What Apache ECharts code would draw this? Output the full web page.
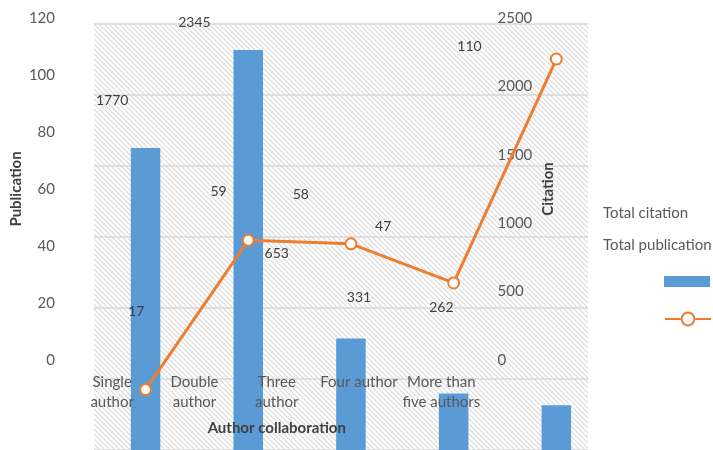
<!DOCTYPE html>
<html>
<head>
<meta charset="utf-8">
<script src="https://cdn.jsdelivr.net/npm/echarts@6/dist/echarts.min.js"></script>
<style>
html,body{margin:0;padding:0;background:#fff;}
#chart{width:713px;height:450px;}
</style>
</head>
<body>
<div id="chart"></div>
<script>
const categories = ['Single\nauthor', 'Double\nauthor', 'Three\nauthor', 'Four author', 'More than\nfive authors'];
const citations = [1770, 2345, 653, 331, 262];
const publications = [17, 59, 58, 47, 110];
const pubAxis = { min: 0, max: 120, interval: 20 };
const citAxis = { min: 0, max: 2500, interval: 500 };
const seriesNames = ['Total citation', 'Total publication'];

const FONT = 'Lato';
const tile = document.createElement('canvas');
tile.width = 5; tile.height = 5;
const tc = tile.getContext('2d');
tc.fillStyle = '#ffffff';
tc.fillRect(0, 0, 5, 5);
tc.strokeStyle = '#d9d9d9';
tc.lineWidth = 1.1;
for (let n = -1; n <= 1; n++) {
  tc.beginPath();
  tc.moveTo(-1, -1 + 5 * n);
  tc.lineTo(6, 6 + 5 * n);
  tc.stroke();
}

const chart = echarts.init(document.getElementById('chart'));
const tickLabel = { color: '#595959', fontFamily: FONT, fontSize: 15, formatter: (v) => String(v) };
const nameStyle = { color: '#404040', fontFamily: FONT, fontWeight: 'bold', fontSize: 15 };
const option = {
  animation: false,
  backgroundColor: '#ffffff',
  grid: [
    { left: 94.2, top: 23.5, width: 513.5, height: 428 },
    { left: 71, top: 18, width: 411.5, height: 342 },
    { left: 94, top: 23.5, width: 494, height: 428, show: true, borderWidth: 0,
      backgroundColor: { image: tile, repeat: 'repeat' }, z: 0 }
  ],
  xAxis: [
    { type: 'category', gridIndex: 0, data: categories, show: false },
    { type: 'category', gridIndex: 1, data: categories, z: 10,
      axisLine: { show: false }, axisTick: { show: false }, splitLine: { show: false },
      axisLabel: { interval: 0, margin: 12, lineHeight: 20, color: '#595959', fontFamily: FONT, fontSize: 15 },
      name: 'Author collaboration', nameLocation: 'middle', nameGap: 61, nameMoveOverlap: false, nameTextStyle: nameStyle },
    { type: 'value', gridIndex: 2, min: 0, max: 1, show: false }
  ],
  yAxis: [
    { type: 'value', gridIndex: 0, min: pubAxis.min, max: pubAxis.max, interval: pubAxis.interval, show: false },
    { type: 'value', gridIndex: 0, min: citAxis.min, max: citAxis.max, interval: citAxis.interval, show: false },
    { type: 'value', gridIndex: 1, position: 'left', min: pubAxis.min, max: pubAxis.max, interval: pubAxis.interval, z: 10,
      axisLine: { show: false }, axisTick: { show: false }, splitLine: { show: false },
      axisLabel: Object.assign({ margin: 16 }, tickLabel),
      name: 'Publication', nameLocation: 'middle', nameGap: 47, nameRotate: 90, nameMoveOverlap: false, nameTextStyle: nameStyle },
    { type: 'value', gridIndex: 1, position: 'right', min: citAxis.min, max: citAxis.max, interval: citAxis.interval, z: 10,
      axisLine: { show: false }, axisTick: { show: false }, splitLine: { show: false },
      axisLabel: Object.assign({ margin: 15 }, tickLabel),
      name: 'Citation', nameLocation: 'middle', nameGap: 58, nameRotate: 90, nameMoveOverlap: false, nameTextStyle: nameStyle },
    { type: 'value', gridIndex: 2, min: pubAxis.min, max: pubAxis.max, interval: pubAxis.interval,
      axisLine: { show: false }, axisTick: { show: false }, axisLabel: { show: false },
      splitLine: { show: true, lineStyle: { color: '#d9d9d9', width: 1.5 } } }
  ],
  legend: [
    { data: [seriesNames[0]], orient: 'vertical', left: 664, top: 276, padding: 0,
      itemWidth: 46, itemHeight: 11, icon: 'rect', formatter: () => '', selectedMode: false },
    { data: [seriesNames[1]], orient: 'vertical', left: 664, top: 311, padding: 0,
      itemWidth: 46, itemHeight: 16, formatter: () => '', selectedMode: false }
  ],
  graphic: [
    { type: 'text', left: 603, top: 206, style: { text: seriesNames[0], fill: '#595959', font: '15px ' + FONT } },
    { type: 'text', left: 603, top: 238, style: { text: seriesNames[1], fill: '#595959', font: '15px ' + FONT } }
  ],
  series: [
    { name: seriesNames[0], type: 'bar', xAxisIndex: 0, yAxisIndex: 1, data: citations,
      barWidth: 29.5, itemStyle: { color: '#5B9BD5' }, z: 2 },
    { name: seriesNames[1], type: 'line', xAxisIndex: 0, yAxisIndex: 0, data: publications,
      symbol: 'emptyCircle', symbolSize: 11, z: 12,
      lineStyle: { color: '#ED7D31', width: 3 },
      itemStyle: { color: '#ED7D31', borderColor: '#ED7D31', borderWidth: 3 } },
    { name: 'citationLabels', type: 'bar', xAxisIndex: 1, yAxisIndex: 3, data: citations,
      barWidth: 1, itemStyle: { color: 'rgba(0,0,0,0)' }, silent: true, z: 13,
      label: { show: true, position: 'top', distance: 10, color: '#404040', fontFamily: FONT, fontSize: 14 } },
    { name: 'publicationLabels', type: 'line', xAxisIndex: 1, yAxisIndex: 2, data: publications,
      symbol: 'circle', symbolSize: 2, itemStyle: { color: 'rgba(0,0,0,0)' },
      lineStyle: { opacity: 0, width: 0 }, silent: true, z: 13,
      label: { show: true, position: 'right', distance: 15, color: '#404040', fontFamily: FONT, fontSize: 14 } }
  ]
};
chart.setOption(option);
</script>
</body>
</html>
